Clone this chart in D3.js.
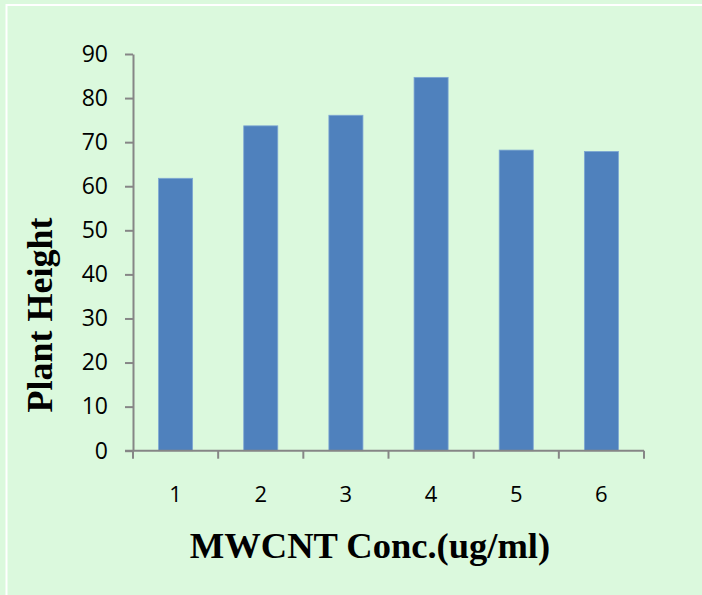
<!DOCTYPE html>
<html>
<head>
<meta charset="utf-8">
<script src="https://cdn.jsdelivr.net/npm/d3@7"></script>
<style>
  html, body { margin: 0; padding: 0; background: #dbf9dd; }
  svg { display: block; }
</style>
</head>
<body>
<script>
// Plant height by MWCNT concentration
const concentrations = ["1", "2", "3", "4", "5", "6"];
const plantHeight = [61.8, 73.7, 76.1, 84.7, 68.2, 67.9];
const yTicks = [0, 10, 20, 30, 40, 50, 60, 70, 80, 90];

const W = 702, H = 595;
const plot = { left: 133, right: 644, top: 54, bottom: 450.7 };

const svg = d3.select("body").append("svg")
  .attr("width", W).attr("height", H);

svg.append("rect").attr("width", W).attr("height", H).attr("fill", "#dbf9dd");

// white frame line (top and left edges visible)
svg.append("rect")
  .attr("x", 6.5).attr("y", 5)
  .attr("width", W + 20).attr("height", H + 20)
  .attr("fill", "none").attr("stroke", "#ffffff").attr("stroke-width", 2);

const x = d3.scaleBand().domain(concentrations).range([plot.left, plot.right]).padding(0);
const y = d3.scaleLinear().domain([0, 90]).range([plot.bottom, plot.top]);

const barW = x.bandwidth() * 0.4;

// bars
svg.append("g").selectAll("rect")
  .data(plantHeight)
  .join("rect")
  .attr("x", (d, i) => x(concentrations[i]) + (x.bandwidth() - barW) / 2)
  .attr("y", d => y(d))
  .attr("width", barW)
  .attr("height", d => y(0) - y(d))
  .attr("fill", "#4f81bd")
  .attr("stroke", "#7fa8d3")
  .attr("stroke-width", 0.8);

const axisColor = "#868686";
const tickFont = "'Open Sans', 'Noto Sans', sans-serif";

// y axis
const yAxis = svg.append("g")
  .attr("transform", `translate(${plot.left},0)`)
  .call(d3.axisLeft(y).tickValues(yTicks).tickSize(8).tickPadding(17).tickSizeOuter(0));
yAxis.select(".domain").attr("stroke", axisColor).attr("stroke-width", 2);
yAxis.selectAll(".tick line").attr("stroke", axisColor).attr("stroke-width", 2);
yAxis.selectAll(".tick text")
  .attr("fill", "#000").style("font-family", tickFont).style("font-size", "23px");

// x axis: labels centered in each category
const xAxis = svg.append("g")
  .attr("transform", `translate(0,${plot.bottom})`)
  .call(d3.axisBottom(x).tickSize(0).tickPadding(36).tickSizeOuter(0));
xAxis.select(".domain").remove();
xAxis.selectAll(".tick text")
  .attr("fill", "#000").style("font-family", tickFont).style("font-size", "22px");

// x axis line and tick marks at category boundaries
const edges = concentrations.map(c => x(c)).concat([plot.right]);
svg.append("line")
  .attr("x1", plot.left - 8).attr("x2", plot.right)
  .attr("y1", plot.bottom).attr("y2", plot.bottom)
  .attr("stroke", axisColor).attr("stroke-width", 2);
svg.append("g").selectAll("line")
  .data(edges)
  .join("line")
  .attr("x1", d => d).attr("x2", d => d)
  .attr("y1", plot.bottom).attr("y2", plot.bottom + 8)
  .attr("stroke", axisColor).attr("stroke-width", 2);

// axis titles
svg.append("text")
  .attr("x", 370).attr("y", 558)
  .attr("text-anchor", "middle")
  .style("font-family", "'Liberation Serif', 'Times New Roman', serif")
  .style("font-weight", "bold").style("font-size", "36.5px")
  .text("MWCNT Conc.(ug/ml)");

svg.append("text")
  .attr("transform", "translate(52,315) rotate(-90)")
  .attr("text-anchor", "middle")
  .style("font-family", "'Liberation Serif', 'Times New Roman', serif")
  .style("font-weight", "bold").style("font-size", "36px")
  .text("Plant Height");
</script>
</body>
</html>
